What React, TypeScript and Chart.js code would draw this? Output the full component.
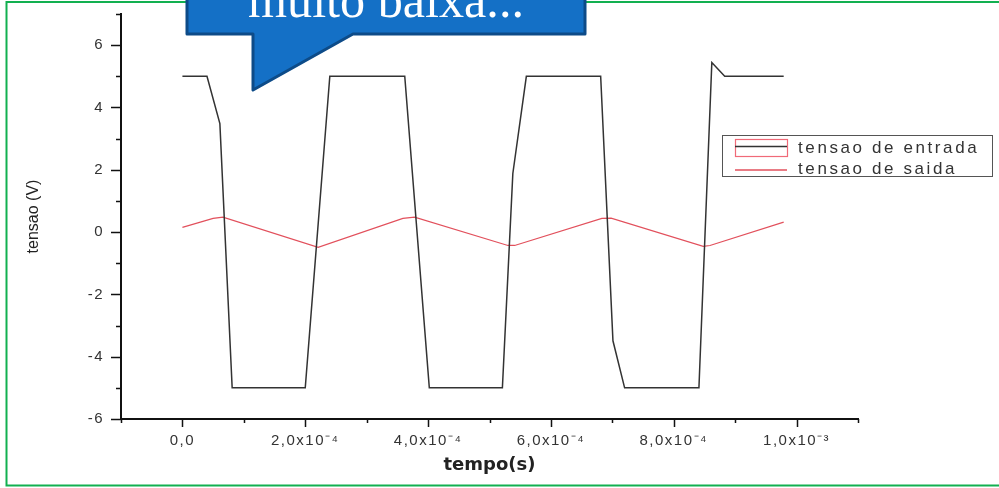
import React, { useEffect, useRef } from 'react';
import { Chart, registerables } from 'chart.js';

Chart.register(...registerables);

// ---- data (time in seconds, voltage in volts) ----
const inputTimes = [0, 0.40e-4, 0.61e-4, 0.81e-4, 2.0e-4, 2.40e-4, 3.62e-4, 4.02e-4, 5.21e-4, 5.38e-4, 5.60e-4, 6.81e-4, 7.01e-4, 7.20e-4, 8.41e-4, 8.62e-4, 8.83e-4, 9.79e-4];
const inputVolts = [5, 5, 3.48, -5, -5, 5, 5, -5, -5, 1.88, 5, 5, -3.49, -5, -5, 5.44, 5, 5];

const outputTimes = [0, 0.50e-4, 0.66e-4, 2.21e-4, 3.59e-4, 3.78e-4, 5.30e-4, 5.41e-4, 6.83e-4, 6.98e-4, 8.48e-4, 8.59e-4, 9.79e-4];
const outputVolts = [0.15, 0.44, 0.48, -0.49, 0.44, 0.48, -0.43, -0.43, 0.44, 0.45, -0.46, -0.43, 0.32];

const xTickValues = [0, 2e-4, 4e-4, 6e-4, 8e-4, 1e-3];
const xTickLabels = ['0,0', '2,0x10⁻⁴', '4,0x10⁻⁴', '6,0x10⁻⁴', '8,0x10⁻⁴', '1,0x10⁻³'];
const yTickValues = [-6, -4, -2, 0, 2, 4, 6];
const yTickLabels = ['-6', '-4', '-2', '0', '2', '4', '6'];

const seriesNames = ['tensao de entrada', 'tensao de saida'];
const xTitle = 'tempo(s)';
const yTitle = 'tensao (V)';
const calloutText = 'muito baixa...';

const SANS = '"Liberation Sans", Arial, sans-serif';

const decorPlugin = {
  id: 'decor',
  beforeDraw(chart: any) {
    (chart.ctx as any).letterSpacing = '0px';
  },
  afterDatasetsDraw(chart: any) {
    // tick labels (ticks.z = 1) are drawn after this hook: widen them a little
    (chart.ctx as any).letterSpacing = '1.5px';
  },
  afterDraw(chart: any) {
    const ctx = chart.ctx as any;
    const xs = chart.scales.x;
    const ys = chart.scales.y;
    ctx.save();
    ctx.letterSpacing = '0px';

    // tick marks (major / minor) from the library's scales
    ctx.strokeStyle = '#111';
    ctx.lineWidth = 1.5;
    ctx.beginPath();
    xs.ticks.forEach((t: any) => {
      const n = Math.round(t.value / 1e-4);
      const px = Math.round(xs.getPixelForValue(t.value)) + 0.5;
      const len = Math.abs(n) % 2 === 0 ? 8 : 4;
      ctx.moveTo(px, xs.top);
      ctx.lineTo(px, xs.top + len);
    });
    ys.ticks.forEach((t: any) => {
      const n = Math.round(t.value);
      const py = Math.round(ys.getPixelForValue(t.value)) + 0.5;
      const len = Math.abs(n) % 2 === 0 ? 10 : 5;
      ctx.moveTo(ys.right, py);
      ctx.lineTo(ys.right - len, py);
    });
    ctx.stroke();

    // legend
    const ds = chart.data.datasets;
    ctx.strokeStyle = '#555';
    ctx.lineWidth = 1;
    ctx.strokeRect(722.5, 135.5, 270, 41);
    ctx.strokeStyle = '#f06a78';
    ctx.lineWidth = 1.2;
    ctx.strokeRect(735.5, 139.5, 52, 17);
    ctx.strokeStyle = ds[0].borderColor;
    ctx.lineWidth = 1.3;
    ctx.beginPath();
    ctx.moveTo(735, 146.5);
    ctx.lineTo(787, 146.5);
    ctx.stroke();
    ctx.strokeStyle = ds[1].borderColor;
    ctx.beginPath();
    ctx.moveTo(735, 170);
    ctx.lineTo(787, 170);
    ctx.stroke();
    ctx.fillStyle = '#333';
    ctx.font = `17px ${SANS}`;
    ctx.letterSpacing = '2.6px';
    ctx.textAlign = 'left';
    ctx.textBaseline = 'alphabetic';
    ctx.fillText(ds[0].label, 798, 152.5);
    ctx.fillText(ds[1].label, 798, 174);
    ctx.letterSpacing = '0px';

    // green frame
    ctx.strokeStyle = '#12b050';
    ctx.lineWidth = 2;
    ctx.beginPath();
    ctx.moveTo(1010, 2);
    ctx.lineTo(6.5, 2);
    ctx.lineTo(6.5, 485.5);
    ctx.lineTo(1010, 485.5);
    ctx.stroke();

    // callout
    ctx.beginPath();
    ctx.moveTo(187, -10);
    ctx.lineTo(585, -10);
    ctx.lineTo(585, 34);
    ctx.lineTo(353, 34);
    ctx.lineTo(253, 90);
    ctx.lineTo(253, 34);
    ctx.lineTo(187, 34);
    ctx.closePath();
    ctx.fillStyle = '#1470c6';
    ctx.fill();
    ctx.lineJoin = 'round';
    ctx.strokeStyle = '#0d4b88';
    ctx.lineWidth = 3;
    ctx.stroke();
    ctx.font = `48px "Liberation Serif", "DejaVu Serif", serif`;
    const w = ctx.measureText(calloutText).width;
    const size = (48 * 276) / w;
    ctx.font = `${size}px "Liberation Serif", "DejaVu Serif", serif`;
    ctx.fillStyle = '#ffffff';
    ctx.textAlign = 'center';
    ctx.fillText(calloutText, 386, 17);
    ctx.restore();
  },
};

export default function App() {
  const canvasRef = useRef<HTMLCanvasElement | null>(null);

  useEffect(() => {
    document.body.style.margin = '0';
    const canvas = canvasRef.current;
    if (!canvas) return;
    const chart = new Chart(canvas, {
      type: 'line',
      data: {
        datasets: [
          {
            label: seriesNames[0],
            data: inputTimes.map((t, i) => ({ x: t, y: inputVolts[i] })),
            borderColor: '#333333',
            borderWidth: 1.5,
            pointRadius: 0,
            tension: 0,
            fill: false,
          },
          {
            label: seriesNames[1],
            data: outputTimes.map((t, i) => ({ x: t, y: outputVolts[i] })),
            borderColor: '#e2505c',
            borderWidth: 1.2,
            pointRadius: 0,
            tension: 0,
            fill: false,
          },
        ],
      },
      options: {
        animation: false,
        responsive: false,
        devicePixelRatio: 1,
        layout: { padding: { left: 0, top: 14, right: 141, bottom: 0 } },
        plugins: {
          legend: { display: false },
          tooltip: { enabled: false },
        },
        scales: {
          x: {
            type: 'linear',
            min: -1e-4,
            max: 1.1e-3,
            afterFit: (s: any) => {
              s.height = 69;
              s.paddingLeft = 0;
              s.paddingRight = 0;
            },
            grid: { display: true, drawOnChartArea: false, drawTicks: false },
            border: { display: true, color: '#111', width: 2 },
            ticks: {
              z: 1,
              stepSize: 1e-4,
              autoSkip: false,
              maxTicksLimit: 30,
              maxRotation: 0,
              minRotation: 0,
              padding: 13,
              color: '#333',
              font: { family: SANS, size: 15 },
              callback: (value: any) => {
                const i = xTickValues.findIndex((v) => Math.abs(v - Number(value)) < 1e-9);
                return i >= 0 ? xTickLabels[i] : '';
              },
            },
            title: {
              display: true,
              text: xTitle,
              color: '#222',
              font: { family: '"DejaVu Sans", sans-serif', size: 18, weight: 'bold' },
              padding: { top: 0, bottom: 12 },
            },
          },
          y: {
            type: 'linear',
            min: -6,
            max: 7,
            afterFit: (s: any) => {
              s.width = 121;
              s.paddingTop = 0;
              s.paddingBottom = 0;
            },
            grid: { display: true, drawOnChartArea: false, drawTicks: false },
            border: { display: true, color: '#111', width: 2 },
            ticks: {
              z: 1,
              stepSize: 1,
              autoSkip: false,
              maxTicksLimit: 30,
              padding: 17,
              color: '#333',
              font: { family: SANS, size: 15 },
              callback: (value: any) => {
                const i = yTickValues.findIndex((v) => Math.abs(v - Number(value)) < 1e-9);
                return i >= 0 ? yTickLabels[i] : '';
              },
            },
            title: {
              display: true,
              text: yTitle,
              color: '#222',
              font: { family: SANS, size: 16 },
              padding: { top: 24, bottom: 0 },
            },
          },
        },
      } as any,
      plugins: [decorPlugin],
    });
    return () => {
      chart.destroy();
    };
  }, []);

  return (
    <div style={{ position: 'relative', width: 999, height: 488, background: '#fff' }}>
      <canvas ref={canvasRef} width={999} height={488} style={{ display: 'block', width: 999, height: 488 }} />
    </div>
  );
}
